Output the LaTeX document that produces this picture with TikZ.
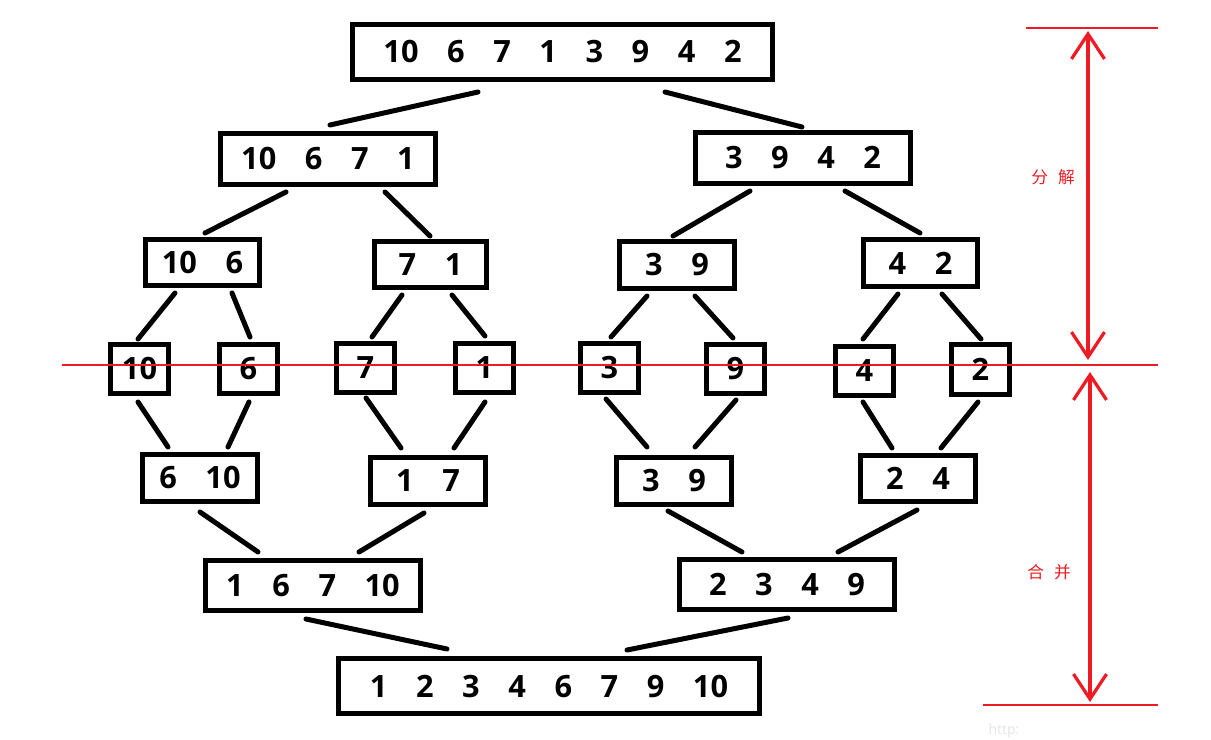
\documentclass[tikz,border=0pt]{standalone}
\usepackage{fontspec}
\setmainfont{Open Sans}
\newfontfamily\cjk{Noto Sans CJK SC}
\usetikzlibrary{calc,arrows.meta}
\definecolor{paintred}{RGB}{237,28,36}
\newcommand\gp{\hspace{0.93em}}

\begin{document}
\begin{tikzpicture}[x=0.02cm,y=-0.02cm,
  box/.style 2 args={draw,line width=0.1cm,inner sep=0pt,
    minimum width={(#1-5)*0.02cm},minimum height={(#2-5)*0.02cm},
    font=\fontsize{17.5}{20}\selectfont\bfseries},
  link/.style={line width=0.1cm,line cap=round},
  guide/.style={paintred,line width=0.6pt},
  span/.style={paintred,line width=0.065cm,
    {Straight Barb[length=0.5cm,width=0.66cm]}-{Straight Barb[length=0.5cm,width=0.66cm]}},
  note/.style={text=paintred,font=\cjk\fontsize{9.5}{11}\selectfont}]
\useasboundingbox (0,0) rectangle (1211,740);

% split
\node[box={425}{60}] (n0) at (562.5,52) {10\gp6\gp7\gp1\gp3\gp9\gp4\gp2};
\node[box={220}{56}] (nL) at (328,159) {10\gp6\gp7\gp1};
\node[box={220}{56}] (nR) at (803,158) {3\gp9\gp4\gp2};
\node[box={119}{51}] (nLL) at (202.5,262.5) {10\gp6};
\node[box={117}{51}] (nLR) at (430.5,264.5) {7\gp1};
\node[box={120}{52}] (nRL) at (677,265) {3\gp9};
\node[box={119}{52}] (nRR) at (920.5,263) {4\gp2};
\node[box={63}{54}] (s10) at (139.5,369) {10};
\node[box={63}{54}] (s6) at (248.5,369) {6};
\node[box={63}{54}] (s7) at (365.5,368) {7};
\node[box={63}{54}] (s1) at (484.5,368) {1};
\node[box={63}{54}] (s3) at (609.5,368) {3};
\node[box={63}{54}] (s9) at (735.5,369) {9};
\node[box={63}{54}] (s4) at (864.5,371) {4};
\node[box={63}{55}] (s2) at (980.5,369.5) {2};

% merge
\node[box={120}{52}] (mLL) at (200,478) {6\gp10};
\node[box={120}{52}] (mLR) at (428,481) {1\gp7};
\node[box={120}{52}] (mRL) at (674,481) {3\gp9};
\node[box={120}{51}] (mRR) at (918,478.5) {2\gp4};
\node[box={220}{55}] (mL) at (313,585.5) {1\gp6\gp7\gp10};
\node[box={220}{55}] (mR) at (787,584.5) {2\gp3\gp4\gp9};
\node[box={426}{60}] (fin) at (549,686) {1\gp2\gp3\gp4\gp6\gp7\gp9\gp10};

\draw[link] ($(n0.south)+(-84.5,10)$) -- ($(nL.north)+(2,-6)$);
\draw[link] ($(n0.south)+(102.5,10)$) -- ($(nR.north)+(-1,-3)$);
\draw[link] ($(nL.south)+(-42,5)$) -- ($(nLL.north)+(2.5,-4)$);
\draw[link] ($(nL.south)+(57,5)$) -- ($(nLR.north)+(-0.5,-3)$);
\draw[link] ($(nR.south)+(-53,5)$) -- ($(nRL.north)+(-4,-3)$);
\draw[link] ($(nR.south)+(42,5)$) -- ($(nRR.north)+(-0.5,-4)$);
\draw[link] ($(nLL.south)+(-27.5,5)$) -- ($(s10.north)+(-1.5,-3)$);
\draw[link] ($(nLL.south)+(29.5,5)$) -- ($(s6.north)+(1.5,-5)$);
\draw[link] ($(nLR.south)+(-28.5,5)$) -- ($(s7.north)+(6.5,-4)$);
\draw[link] ($(nLR.south)+(21.5,5)$) -- ($(s1.north)+(0.5,-5)$);
\draw[link] ($(nRL.south)+(-30,5)$) -- ($(s3.north)+(1.5,-4)$);
\draw[link] ($(nRL.south)+(18,5)$) -- ($(s9.north)+(-2.5,-4)$);
\draw[link] ($(nRR.south)+(-22.5,5)$) -- ($(s4.north)+(-1.5,-5)$);
\draw[link] ($(nRR.south)+(21.5,5)$) -- ($(s2.north)+(0.5,-3)$);
\draw[link] ($(s10.south)+(-1.5,6)$) -- ($(mLL.north)+(-32,-5)$);
\draw[link] ($(s6.south)+(0.5,6)$) -- ($(mLL.north)+(28,-5)$);
\draw[link] ($(s7.south)+(0.5,3)$) -- ($(mLR.north)+(-27,-7)$);
\draw[link] ($(s1.south)+(0.5,7)$) -- ($(mLR.north)+(26,-7)$);
\draw[link] ($(s3.south)+(-3.5,4)$) -- ($(mRL.north)+(-27,-8)$);
\draw[link] ($(s9.south)+(0.5,4)$) -- ($(mRL.north)+(21,-8)$);
\draw[link] ($(s4.south)+(-1.5,4)$) -- ($(mRR.north)+(-26,-5)$);
\draw[link] ($(s2.south)+(-2.5,5)$) -- ($(mRR.north)+(23,-5)$);
\draw[link] ($(mLL.south)+(0,8)$) -- ($(mL.north)+(-55,-6)$);
\draw[link] ($(mLR.south)+(-4,6)$) -- ($(mL.north)+(46,-6)$);
\draw[link] ($(mRL.south)+(-6,4)$) -- ($(mR.north)+(-45,-5)$);
\draw[link] ($(mRR.south)+(-1,6)$) -- ($(mR.north)+(51,-5)$);
\draw[link] ($(mL.south)+(-7,6)$) -- ($(fin.north)+(-102,-7)$);
\draw[link] ($(mR.south)+(1,6)$) -- ($(fin.north)+(78,-6)$);

% red marks on the right
\coordinate (top) at (1088,28);
\coordinate (mid) at (1088,365);
\coordinate (bot) at (1090,705);
\draw[guide] (1026,28) -- (1158,28);
\draw[guide] (62,365) -- (1158,365);
\draw[guide] (983,705) -- (1158,705);
\draw[span] ($(top)+(0,3)$) -- ($(mid)+(0,-5)$);
\draw[span] ($(mid)+(2,7)$) -- ($(bot)+(0,-3)$);
\node[note] (split) at (1053,177) {分\hspace{0.6em}解};
\node[note] (merge) at (1049,572) {合\hspace{0.6em}并};
\node[text=black!10,font=\fontsize{8}{9}\selectfont] (mark) at (1004,731) {http:};
\end{tikzpicture}
\end{document}
